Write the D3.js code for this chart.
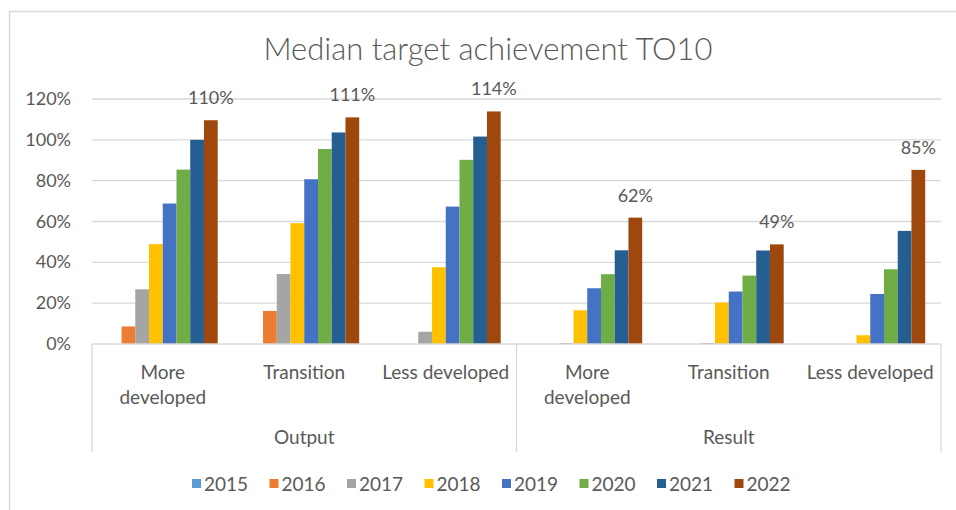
<!DOCTYPE html>
<html>
<head>
<meta charset="utf-8">
<script src="https://cdn.jsdelivr.net/npm/d3@7"></script>
<style>
  body { margin: 0; background: #fff; }
  text { font-family: Lato, "Open Sans", sans-serif; fill: #595959; }
</style>
</head>
<body>
<script>
const width = 956;
const height = 510;

// data
const years = ["2015", "2016", "2017", "2018", "2019", "2020", "2021", "2022"];
const categories = ["More developed", "Transition", "Less developed", "More developed", "Transition", "Less developed"];
const tickLabels = [["More", "developed"], ["Transition"], ["Less developed"], ["More", "developed"], ["Transition"], ["Less developed"]];
const groups = ["Output", "Result"];
const v2015 = [0, 0, 0, 0, 0, 0];
const v2016 = [0.086, 0.162, 0, 0, 0, 0];
const v2017 = [0.268, 0.343, 0.06, 0.005, 0.005, 0];
const v2018 = [0.489, 0.592, 0.376, 0.165, 0.203, 0.043];
const v2019 = [0.688, 0.807, 0.673, 0.273, 0.257, 0.245];
const v2020 = [0.854, 0.955, 0.902, 0.342, 0.335, 0.366];
const v2021 = [1.0, 1.036, 1.016, 0.459, 0.458, 0.554];
const v2022 = [1.096, 1.11, 1.139, 0.619, 0.488, 0.853];
const yTicks = [0, 0.2, 0.4, 0.6, 0.8, 1.0, 1.2];
const colors = ["#5B9BD5", "#ED7D31", "#A5A5A5", "#FFC000", "#4472C4", "#70AD47", "#255E91", "#9E480E"];

const series = [v2015, v2016, v2017, v2018, v2019, v2020, v2021, v2022];
const labelled = "2022";

const margin = {left: 92, right: 15, top: 99, bottom: 166};

const svg = d3.select("body").append("svg")
  .attr("width", width).attr("height", height);

svg.append("rect").attr("x", 9.5).attr("y", 11.5)
  .attr("width", width).attr("height", height)
  .attr("fill", "#fff").attr("stroke", "#d9d9d9").attr("stroke-width", 1.5);

const idx = d3.range(categories.length);
const x0 = d3.scaleBand().domain(idx).range([margin.left, width - margin.right]);
const x1 = d3.scaleBand().domain(years).range([0, x0.bandwidth()])
  .paddingInner(0).paddingOuter(1.15);
const y = d3.scaleLinear().domain([0, 1.2]).range([height - margin.bottom, margin.top]);

// gridlines
svg.append("g").selectAll("line").data(yTicks.slice(1)).enter().append("line")
  .attr("x1", margin.left).attr("x2", width - margin.right)
  .attr("y1", d => y(d)).attr("y2", d => y(d))
  .attr("stroke", "#d9d9d9").attr("stroke-width", 1.3);

// y labels
svg.append("g").selectAll("text").data(yTicks).enter().append("text")
  .attr("x", 71).attr("y", d => y(d) + 6)
  .attr("text-anchor", "end").attr("font-size", 18)
  .text(d => d3.format(".0%")(d));

// bars
const barData = [];
years.forEach((yr, j) => {
  idx.forEach(i => barData.push({year: yr, i: i, v: series[j][i], c: colors[j]}));
});
svg.append("g").selectAll("rect").data(barData).enter().append("rect")
  .attr("x", d => x0(d.i) + x1(d.year))
  .attr("y", d => y(d.v))
  .attr("width", x1.bandwidth())
  .attr("height", d => y(0) - y(d.v))
  .attr("fill", d => d.c);

// data labels
svg.append("g").selectAll("text").data(barData.filter(d => d.year === labelled)).enter().append("text")
  .attr("x", d => x0(d.i) + x1(d.year) + x1.bandwidth() / 2)
  .attr("y", d => y(d.v) - 16)
  .attr("text-anchor", "middle").attr("font-size", 18)
  .text(d => d3.format(".0%")(d.v));

// category axis
const axisY = y(0);
svg.append("line").attr("x1", margin.left).attr("x2", width - margin.right)
  .attr("y1", axisY).attr("y2", axisY).attr("stroke", "#d9d9d9").attr("stroke-width", 1.3);

const splits = [0, 3, 6];
svg.append("g").selectAll("line").data(splits).enter().append("line")
  .attr("x1", d => d < 6 ? x0(d) : x0.range()[1])
  .attr("x2", d => d < 6 ? x0(d) : x0.range()[1])
  .attr("y1", axisY).attr("y2", 452)
  .attr("stroke", "#d9d9d9").attr("stroke-width", 1.3);

const ticks = svg.append("g").selectAll("text").data(idx).enter().append("text")
  .attr("x", d => x0(d) + x0.bandwidth() / 2)
  .attr("y", 379)
  .attr("text-anchor", "middle").attr("font-size", 19);
ticks.selectAll("tspan").data(d => tickLabels[d].map(t => ({t: t, i: d}))).enter().append("tspan")
  .attr("x", d => x0(d.i) + x0.bandwidth() / 2)
  .attr("dy", (d, k) => k === 0 ? 0 : 25)
  .text(d => d.t);

svg.append("g").selectAll("text").data(groups).enter().append("text")
  .attr("x", (d, k) => (x0(k * 3) + (k === 0 ? x0(3) : x0.range()[1])) / 2)
  .attr("y", 444)
  .attr("text-anchor", "middle").attr("font-size", 19)
  .text(d => d);

// title
svg.append("text").attr("x", 488).attr("y", 60)
  .attr("text-anchor", "middle").attr("font-size", 31).attr("font-weight", 300)
  .text("Median target achievement TO10");

// legend
const lx = d3.scaleBand().domain(years).range([192, 192 + 77.5 * years.length]);
const leg = svg.append("g").selectAll("g").data(years).enter().append("g")
  .attr("transform", d => `translate(${lx(d)},0)`);
leg.append("rect").attr("x", 0).attr("y", 479).attr("width", 9).attr("height", 9)
  .attr("fill", (d, k) => colors[k]);
leg.append("text").attr("x", 12).attr("y", 491).attr("font-size", 19).text(d => d);
</script>
</body>
</html>
